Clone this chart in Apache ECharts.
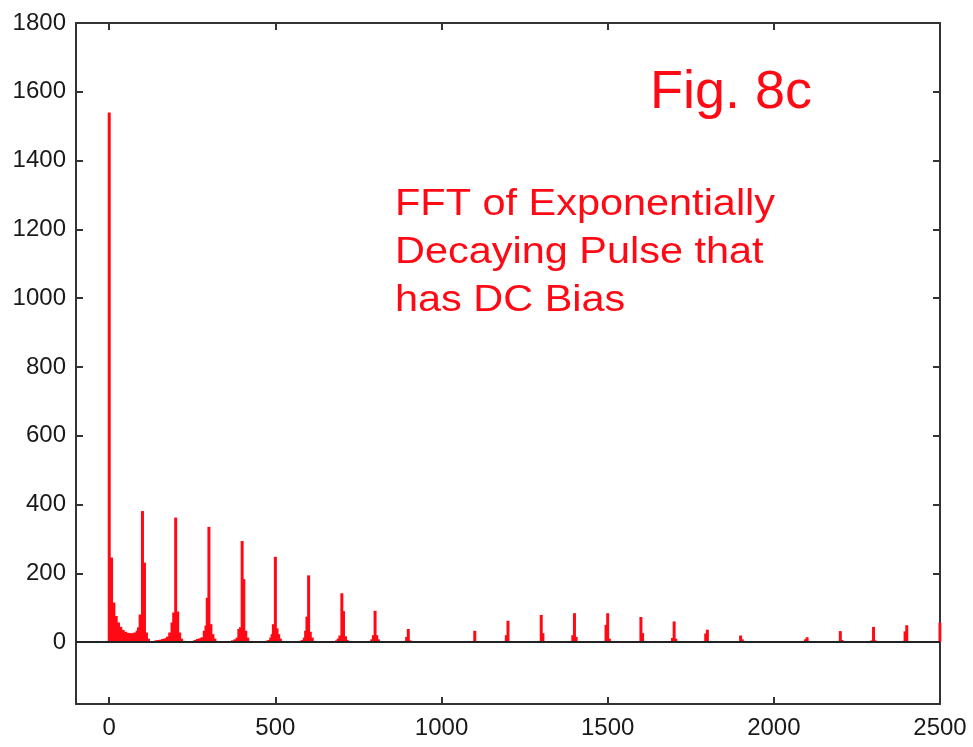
<!DOCTYPE html>
<html>
<head>
<meta charset="utf-8">
<script src="https://cdn.jsdelivr.net/npm/echarts@6/dist/echarts.min.js"></script>
<style>
html,body{margin:0;padding:0;background:#fff;}
#chart{width:973px;height:747px;}
</style>
</head>
<body>
<div id="chart"></div>
<script>
// Frequency bins (x) and FFT magnitudes (y)
const freq = [
  0,7,14,21,28,35,42,49,56,63,70,77,84,88,93,100,106,112,118,
  140,147,154,161,168,175,182,189,194,200,206,212,218,
  258,265,272,279,286,291,295,300,306,312,318,
  371,378,385,390,395,400,405,411,417,
  474,480,486,490,494,500,505,510,515,
  576,582,587,591,595,600,605,611,
  684,689,694,700,705,711,716,
  790,795,800,805,810,
  895,900,905,
  1100,
  1195,1200,
  1300,1305,
  1395,1400,1405,
  1495,1500,1505,
  1600,1605,
  1695,1700,1705,
  1795,1800,
  1900,1905,
  2095,2100,
  2200,2205,
  2295,2300,2305,
  2395,2400,
  2500
];
const amp = [
  1540,246,115,76,57,44,35,30,27,26,26,28,33,43,80,381,231,28,10,
  5,6,7,9,11,16,28,57,86,362,89,28,10,
  6,9,11,14,33,48,129,335,52,23,10,
  5,8,13,38,43,294,183,33,13,
  4,6,13,23,52,248,40,23,10,
  4,6,13,33,74,194,30,13,
  5,10,19,142,90,17,6,
  8,20,91,20,8,
  15,38,5,
  33,
  20,62,
  79,26,
  20,84,15,
  50,84,10,
  73,26,
  12,60,10,
  25,36,
  19,8,
  8,14,
  32,6,
  5,44,5,
  31,49,
  57
];
const xTicks = [0, 500, 1000, 1500, 2000, 2500];
const yTicks = [0, 200, 400, 600, 800, 1000, 1200, 1400, 1600, 1800];
const titleText = 'Fig. 8c';
const noteLines = ['FFT of Exponentially', 'Decaying Pulse that', 'has DC Bias'];

const chart = echarts.init(document.getElementById('chart'), null, {renderer: 'canvas'});
const axisColor = '#333';
const labelColor = '#1a1a1a';
const font = 'Liberation Sans, Arial, sans-serif';
const red = '#ff0a14';
const plain = v => String(v);

const data = freq.map((f, i) => [f, amp[i]]);

const option = {
  animation: false,
  backgroundColor: '#fff',
  grid: {left: 76, right: 33, top: 23, bottom: 43, containLabel: false},
  xAxis: [
    {
      type: 'value', min: -100, max: 2500, position: 'bottom',
      axisLine: {show: true, onZero: false, lineStyle: {color: axisColor, width: 2}},
      axisTick: {show: true, inside: true, length: 7, customValues: xTicks, lineStyle: {color: axisColor, width: 2}},
      axisLabel: {show: true, customValues: xTicks, formatter: plain, fontSize: 24, color: labelColor, fontFamily: font, margin: 12},
      splitLine: {show: false}
    },
    {
      type: 'value', min: -100, max: 2500, position: 'top',
      axisLine: {show: true, onZero: false, lineStyle: {color: axisColor, width: 2}},
      axisTick: {show: true, inside: true, length: 7, customValues: xTicks, lineStyle: {color: axisColor, width: 2}},
      axisLabel: {show: false},
      splitLine: {show: false}
    }
  ],
  yAxis: [
    {
      type: 'value', min: -180, max: 1800, position: 'left',
      axisLine: {show: true, onZero: false, lineStyle: {color: axisColor, width: 2}},
      axisTick: {show: true, inside: true, length: 7, customValues: yTicks, lineStyle: {color: axisColor, width: 2}},
      axisLabel: {show: true, customValues: yTicks, formatter: plain, fontSize: 24, color: labelColor, fontFamily: font, margin: 10},
      splitLine: {show: false}
    },
    {
      type: 'value', min: -180, max: 1800, position: 'right',
      axisLine: {show: true, onZero: false, lineStyle: {color: axisColor, width: 2}},
      axisTick: {show: true, inside: true, length: 7, customValues: yTicks, lineStyle: {color: axisColor, width: 2}},
      axisLabel: {show: false},
      splitLine: {show: false}
    }
  ],
  series: [
    {
      type: 'bar',
      xAxisIndex: 0, yAxisIndex: 0,
      data: data,
      barWidth: 3,
      itemStyle: {color: red},
      clip: true,
      silent: true,
      markLine: {
        silent: true,
        symbol: ['none', 'none'],
        label: {show: false},
        lineStyle: {color: '#222', width: 2, type: 'solid'},
        data: [{yAxis: 0}]
      },
      z: 2
    }
  ],
  graphic: [
    {type: 'text', x: 650, y: 93, style: {text: titleText, fontSize: 54, fontFamily: font, fill: red, align: 'left', verticalAlign: 'middle'}},
    {type: 'text', x: 395, y: 205, scaleX: 1.12, style: {text: noteLines[0], fontSize: 37, fontFamily: font, fill: red, align: 'left', verticalAlign: 'middle'}},
    {type: 'text', x: 395, y: 253, scaleX: 1.12, style: {text: noteLines[1], fontSize: 37, fontFamily: font, fill: red, align: 'left', verticalAlign: 'middle'}},
    {type: 'text', x: 395, y: 301, scaleX: 1.12, style: {text: noteLines[2], fontSize: 37, fontFamily: font, fill: red, align: 'left', verticalAlign: 'middle'}}
  ]
};
chart.setOption(option);
</script>
</body>
</html>
